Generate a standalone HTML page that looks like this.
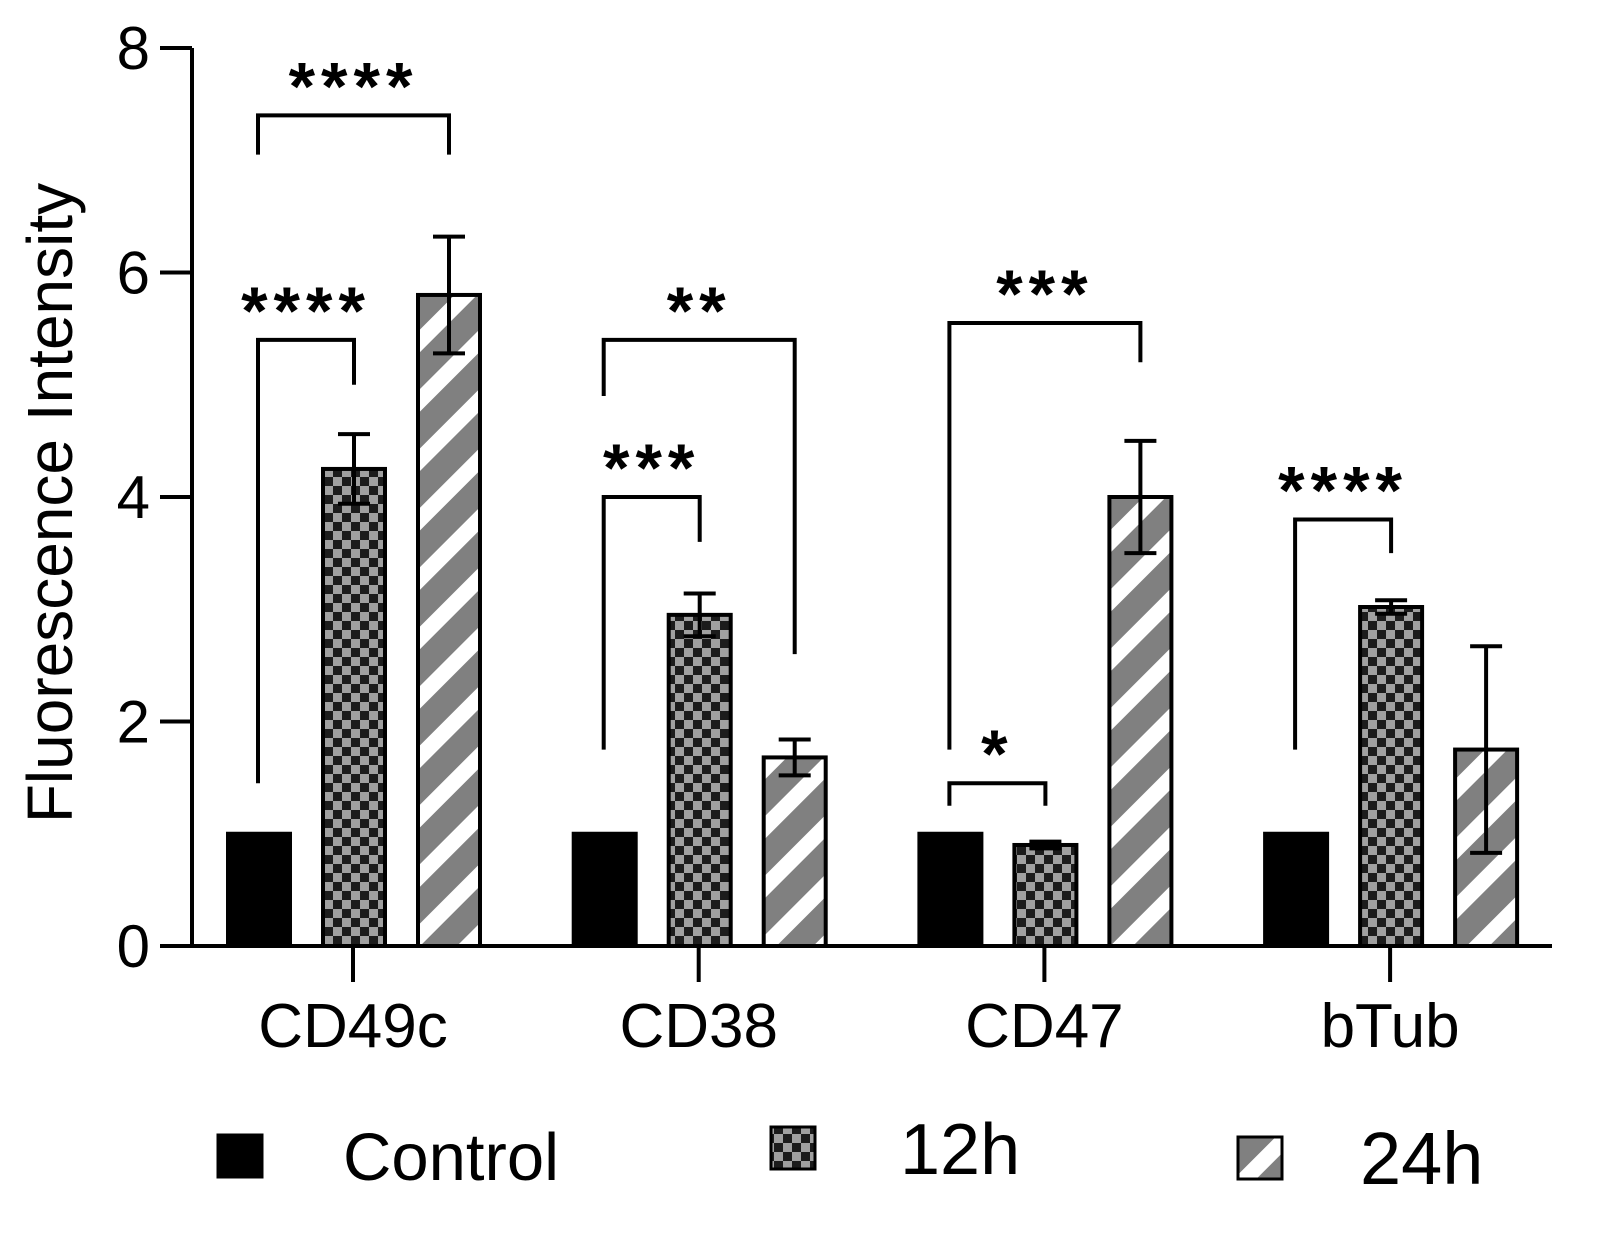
<!DOCTYPE html>
<html><head><meta charset="utf-8"><style>
body{margin:0;background:#fff}
svg text{font-family:"Liberation Sans",Arial,sans-serif;fill:#000}
</style></head><body>
<svg width="1597" height="1233" viewBox="0 0 1597 1233" xmlns="http://www.w3.org/2000/svg">
<defs>
<pattern id="checker" width="18" height="18" patternUnits="userSpaceOnUse">
<rect width="18" height="18" fill="#1c1c1c"/><rect width="9" height="9" fill="#a0a0a0"/><rect x="9" y="9" width="9" height="9" fill="#a0a0a0"/>
</pattern>
<pattern id="stripes" width="42" height="42" patternUnits="userSpaceOnUse" patternTransform="rotate(-45)">
<rect width="42" height="42" fill="#ffffff"/><rect width="42" height="26" fill="#808080"/>
</pattern>
</defs>
<g id="plot"></g>
</svg>
<script>
const categories = ["CD49c","CD38","CD47","bTub"];
const seriesNames = ["Control","12h","24h"];
const controlVals = [1,1,1,1];
const h12Vals = [4.25,2.95,0.9,3.02];
const h24Vals = [5.8,1.68,4.0,1.75];
const h12Err = [0.31,0.19,0.03,0.06];
const h24Err = [0.52,0.16,0.5,0.92];
const controlErr = [0,0,0,0];
const yTicks = [0,2,4,6,8];
// significance: [category, from series, to series, label, left-bottom value, right-bottom value, top value]
const sigs = [
 [0,0,2,"****",7.05,7.05,7.4],
 [0,0,1,"****",1.45,5.0,5.4],
 [1,0,2,"**",4.9,2.6,5.4],
 [1,0,1,"***",1.75,3.6,4.0],
 [2,0,2,"***",1.75,5.2,5.55],
 [2,0,1,"*",1.25,1.25,1.45],
 [3,0,1,"****",1.75,3.5,3.8]
];
const NS="http://www.w3.org/2000/svg";
const g=document.getElementById('plot');
const y0=946, yScale=112.25;
const y=v=>y0-v*yScale;
const groupX=i=>353+i*345.7;
const barX=(i,s)=>groupX(i)-125+s*95;
const barW=62;
function el(t,a,p){const e=document.createElementNS(NS,t);for(const k in a)e.setAttribute(k,a[k]);(p||g).appendChild(e);return e;}
const fills=["#000","url(#checker)","url(#stripes)"];
const vals=[controlVals,h12Vals,h24Vals], errs=[controlErr,h12Err,h24Err];
categories.forEach((c,i)=>{
 for(let s=0;s<3;s++){
  const v=vals[s][i];
  const r=el('rect',{x:barX(i,s),y:y(v),width:barW,height:y0-y(v),fill:fills[s],stroke:'#000','stroke-width':4});
  
  
  const e=errs[s][i];
  if(e>0){
   const cx=barX(i,s)+barW/2;
   const eg=el('g',{stroke:'#000','stroke-width':4});
   
   
   el('line',{x1:cx,x2:cx,y1:y(v+e),y2:y(v-e)},eg);
   el('line',{x1:cx-16,x2:cx+16,y1:y(v+e),y2:y(v+e)},eg);
   el('line',{x1:cx-16,x2:cx+16,y1:y(v-e),y2:y(v-e)},eg);
  }
 }
 const tk=el('line',{x1:groupX(i),x2:groupX(i),y1:y0,y2:982,stroke:'#000','stroke-width':4});
 
 
 const t=el('text',{x:groupX(i),y:1047,'font-size':62,'text-anchor':'middle'});
 t.textContent=c;
 
 
});
const ax=el('path',{d:`M192 48 V${y0} H1552`,fill:'none',stroke:'#000','stroke-width':4});


yTicks.forEach(v=>{
 const l=el('line',{x1:160,x2:192,y1:y(v),y2:y(v),stroke:'#000','stroke-width':4});
 
 
 const t=el('text',{x:150,y:y(v)+21,'font-size':60,'text-anchor':'end'});
 t.textContent=v;
 
 
});
const yt=el('text',{x:0,y:0,'font-size':64,'text-anchor':'middle',transform:'translate(72,503) rotate(-90)'});
yt.textContent='Fluorescence Intensity';


sigs.forEach(sg=>{
 const [ci,a,b,lab,lb,rb,top]=sg;
 const xa=barX(ci,a)+30, xb=barX(ci,b)+barW/2;
 const p=el('path',{d:`M${xa} ${y(lb)} V${y(top)} H${xb} V${y(rb)}`,fill:'none',stroke:'#000','stroke-width':4});
 
 
 const t=el('text',{x:(xa+xb)/2,y:y(top)-6,'font-size':68,'text-anchor':'middle','font-weight':'bold','letter-spacing':6});
 t.textContent=lab;
 
 
});
const leg=[[218,1135,343,1180,67],[771,1127,900,1174,72],[1238,1137,1360,1184,74]];
leg.forEach((L,s)=>{
 const lg=el('g',{});
 
 
 el('rect',{x:L[0],y:L[1],width:44,height:42,fill:fills[s],stroke:'#000','stroke-width':3},lg);
 const t=el('text',{x:L[2],y:L[3],'font-size':L[4]},lg);
 t.textContent=seriesNames[s];
});
</script>
</body></html>
